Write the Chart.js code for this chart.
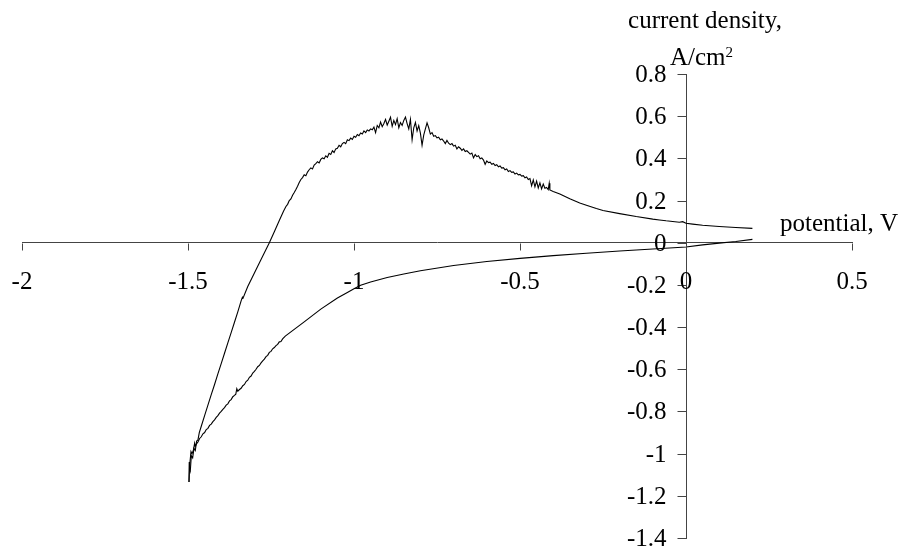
<!DOCTYPE html>
<html>
<head>
<meta charset="utf-8">
<script src="https://cdn.jsdelivr.net/npm/chart.js@4.4.1/dist/chart.umd.min.js"></script>
<style>
  html, body { margin: 0; padding: 0; background: #fff; }
  #wrap { width: 900px; height: 550px; }
</style>
</head>
<body>
<div id="wrap"><canvas id="cv" width="900" height="550"></canvas></div>
<script>
// Axis tick values
const xTicks = [-2, -1.5, -1, -0.5, 0, 0.5];
const yTicks = [-1.4, -1.2, -1, -0.8, -0.6, -0.4, -0.2, 0, 0.2, 0.4, 0.6, 0.8];

// Cathodic sweep: potential (V) going from +0.2 down to -1.5
const cathodicV = [0.200, 0.150, 0.100, 0.050, 0.000, -0.100, -0.200, -0.300, -0.400, -0.500,
  -0.600, -0.700, -0.800, -0.850, -0.900, -0.950, -0.980, -1.000, -1.020, -1.050,
  -1.100, -1.150, -1.207, -1.215, -1.220, -1.225, -1.230, -1.235, -1.240, -1.245,
  -1.250, -1.255, -1.260, -1.265, -1.270, -1.275, -1.280, -1.285, -1.290, -1.295,
  -1.300, -1.305, -1.310, -1.315, -1.320, -1.325, -1.330, -1.335, -1.340, -1.345,
  -1.350, -1.353, -1.356, -1.360, -1.365, -1.370, -1.375, -1.380, -1.385, -1.390,
  -1.395, -1.400, -1.405, -1.410, -1.415, -1.420, -1.425, -1.430, -1.435, -1.440,
  -1.445, -1.450, -1.455, -1.460, -1.465, -1.470, -1.475, -1.478, -1.480, -1.484,
  -1.488, -1.491, -1.494, -1.496, -1.497];
// Cathodic sweep: current density (A/cm2)
const cathodicI = [0.016, 0.006, -0.002, -0.010, -0.020, -0.030, -0.039, -0.050, -0.061, -0.074,
  -0.089, -0.108, -0.133, -0.148, -0.165, -0.186, -0.202, -0.218, -0.236, -0.262,
  -0.315, -0.375, -0.443, -0.456, -0.468, -0.470, -0.482, -0.488, -0.497, -0.503,
  -0.515, -0.520, -0.534, -0.540, -0.552, -0.560, -0.570, -0.582, -0.588, -0.600,
  -0.610, -0.618, -0.632, -0.638, -0.652, -0.658, -0.672, -0.678, -0.690, -0.696,
  -0.704, -0.692, -0.718, -0.724, -0.730, -0.744, -0.750, -0.764, -0.770, -0.782,
  -0.790, -0.800, -0.808, -0.820, -0.828, -0.840, -0.848, -0.860, -0.866, -0.880,
  -0.886, -0.900, -0.906, -0.920, -0.928, -0.945, -0.955, -0.965, -0.950, -0.985,
  -1.000, -0.990, -1.040, -1.080, -1.135];

// Anodic sweep: potential (V) going from -1.5 back up to +0.2
const anodicV = [-1.497, -1.496, -1.493, -1.490, -1.486, -1.482, -1.478, -1.474, -1.470, -1.466,
  -1.460, -1.450, -1.440, -1.430, -1.420, -1.410, -1.400, -1.390, -1.380, -1.370,
  -1.360, -1.350, -1.340, -1.336, -1.334, -1.320, -1.300, -1.280, -1.255, -1.240,
  -1.225, -1.212, -1.205, -1.200, -1.195, -1.190, -1.185, -1.180, -1.175, -1.170,
  -1.165, -1.160, -1.155, -1.150, -1.145, -1.140, -1.135, -1.130, -1.125, -1.120,
  -1.115, -1.110, -1.105, -1.100, -1.095, -1.090, -1.085, -1.080, -1.075, -1.070,
  -1.065, -1.060, -1.055, -1.050, -1.045, -1.040, -1.035, -1.030, -1.025, -1.020,
  -1.015, -1.010, -1.005, -1.000, -0.995, -0.990, -0.985, -0.980, -0.975, -0.970,
  -0.965, -0.960, -0.955, -0.950, -0.945, -0.940, -0.935, -0.930, -0.925, -0.920,
  -0.915, -0.910, -0.905, -0.900, -0.895, -0.890, -0.885, -0.880, -0.875, -0.870,
  -0.865, -0.860, -0.855, -0.850, -0.845, -0.840, -0.835, -0.830, -0.825, -0.820,
  -0.815, -0.810, -0.805, -0.800, -0.795, -0.790, -0.785, -0.780, -0.775, -0.770,
  -0.765, -0.760, -0.755, -0.750, -0.745, -0.740, -0.735, -0.730, -0.725, -0.720,
  -0.715, -0.710, -0.705, -0.700, -0.695, -0.690, -0.685, -0.680, -0.675, -0.670,
  -0.665, -0.660, -0.655, -0.650, -0.645, -0.640, -0.635, -0.630, -0.625, -0.620,
  -0.615, -0.610, -0.605, -0.600, -0.595, -0.590, -0.585, -0.580, -0.575, -0.570,
  -0.565, -0.560, -0.555, -0.550, -0.545, -0.540, -0.535, -0.530, -0.525, -0.520,
  -0.515, -0.510, -0.505, -0.500, -0.495, -0.490, -0.485, -0.480, -0.475, -0.470,
  -0.465, -0.460, -0.455, -0.450, -0.445, -0.440, -0.435, -0.430, -0.425, -0.420,
  -0.415, -0.412, -0.410, -0.400, -0.380, -0.350, -0.320, -0.300, -0.270, -0.250,
  -0.200, -0.150, -0.100, -0.080, -0.060, -0.040, -0.020, -0.010, 0.000, 0.020,
  0.050, 0.100, 0.150, 0.200];
// Anodic sweep: current density (A/cm2)
const anodicI = [-1.135, -1.060, -1.080, -1.010, -1.020, -0.975, -0.985, -0.940, -0.935, -0.900,
  -0.870, -0.820, -0.770, -0.720, -0.672, -0.622, -0.573, -0.524, -0.475, -0.426,
  -0.377, -0.328, -0.276, -0.258, -0.262, -0.208, -0.143, -0.080, 0.000, 0.052,
  0.105, 0.150, 0.172, 0.182, 0.200, 0.208, 0.225, 0.238, 0.252, 0.268,
  0.285, 0.300, 0.309, 0.322, 0.318, 0.335, 0.346, 0.355, 0.350, 0.368,
  0.375, 0.384, 0.378, 0.395, 0.402, 0.398, 0.412, 0.405, 0.424, 0.419,
  0.436, 0.428, 0.445, 0.448, 0.462, 0.455, 0.470, 0.476, 0.470, 0.488,
  0.484, 0.496, 0.490, 0.505, 0.500, 0.513, 0.507, 0.520, 0.516, 0.530,
  0.522, 0.535, 0.530, 0.540, 0.536, 0.548, 0.522, 0.556, 0.545, 0.572,
  0.550, 0.565, 0.585, 0.558, 0.576, 0.595, 0.552, 0.580, 0.560, 0.588,
  0.545, 0.570, 0.556, 0.580, 0.596, 0.565, 0.540, 0.585, 0.488, 0.545,
  0.570, 0.530, 0.555, 0.520, 0.462, 0.510, 0.540, 0.568, 0.545, 0.515,
  0.522, 0.505, 0.508, 0.497, 0.500, 0.488, 0.492, 0.482, 0.470, 0.485,
  0.472, 0.465, 0.470, 0.458, 0.462, 0.445, 0.455, 0.448, 0.438, 0.445,
  0.432, 0.436, 0.428, 0.420, 0.425, 0.402, 0.418, 0.408, 0.412, 0.398,
  0.402, 0.392, 0.372, 0.388, 0.380, 0.382, 0.372, 0.376, 0.366, 0.370,
  0.360, 0.364, 0.354, 0.356, 0.346, 0.350, 0.338, 0.342, 0.334, 0.336,
  0.326, 0.330, 0.322, 0.324, 0.316, 0.318, 0.308, 0.312, 0.300, 0.304,
  0.270, 0.298, 0.265, 0.292, 0.260, 0.284, 0.255, 0.278, 0.258, 0.262,
  0.252, 0.282, 0.250, 0.243, 0.231, 0.208, 0.188, 0.178, 0.162, 0.153,
  0.138, 0.124, 0.112, 0.108, 0.104, 0.101, 0.097, 0.100, 0.092, 0.088,
  0.083, 0.077, 0.072, 0.068];

const toPoints = (xs, ys) => xs.map((x, i) => ({ x: x, y: ys[i] }));

const FONT = '"Liberation Serif", "Times New Roman", serif';
const FONT_SIZE = 25;
const AXIS_COLOR = '#444';
const fmt = v => String(Number(v.toFixed(1)));

// Tick marks and tick labels for axes that cross at the origin
const crossTicks = {
  id: 'crossTicks',
  afterDraw(chart) {
    const { ctx, scales } = chart;
    const xs = scales.x, ys = scales.y;
    const xAxisY = Math.round(ys.getPixelForValue(0)) + 0.5;
    const yAxisX = Math.round(xs.getPixelForValue(0)) + 0.5;
    ctx.save();
    ctx.strokeStyle = AXIS_COLOR;
    ctx.lineWidth = 1;
    ctx.beginPath();
    xs.ticks.forEach(t => {
      const px = Math.round(xs.getPixelForValue(t.value)) + 0.5;
      ctx.moveTo(px, xAxisY);
      ctx.lineTo(px, xAxisY + 7);
    });
    ys.ticks.forEach(t => {
      const py = Math.round(ys.getPixelForValue(t.value)) + 0.5;
      ctx.moveTo(yAxisX, py);
      ctx.lineTo(yAxisX - 9, py);
    });
    ctx.stroke();

    ctx.fillStyle = '#000';
    ctx.font = FONT_SIZE + 'px ' + FONT;
    ctx.textBaseline = 'alphabetic';
    ctx.textAlign = 'center';
    xs.ticks.forEach(t => {
      ctx.fillText(fmt(t.value), xs.getPixelForValue(t.value), xAxisY + 45);
    });
    ctx.textAlign = 'right';
    ys.ticks.forEach(t => {
      ctx.fillText(fmt(t.value), yAxisX - 20, ys.getPixelForValue(t.value) + 8);
    });
    ctx.restore();
  }
};

// Axis titles placed next to the crossing axes
const axisTitles = {
  id: 'axisTitles',
  afterDraw(chart) {
    const { ctx, scales } = chart;
    const x0 = scales.x.getPixelForValue(0);
    const yTop = scales.y.getPixelForValue(0.8);
    const y0 = scales.y.getPixelForValue(0);
    ctx.save();
    ctx.fillStyle = '#000';
    ctx.textBaseline = 'alphabetic';
    ctx.font = FONT_SIZE + 'px ' + FONT;
    ctx.textAlign = 'center';
    ctx.fillText('current density,', x0 + 19, yTop - 46);
    ctx.textAlign = 'left';
    const base = 'A/cm';
    const bx = x0 - 16;
    ctx.fillText(base, bx, yTop - 9);
    const w = ctx.measureText(base).width;
    ctx.font = '15px ' + FONT;
    ctx.fillText('2', bx + w, yTop - 17);
    ctx.font = FONT_SIZE + 'px ' + FONT;
    ctx.fillText('potential, V', x0 + 94, y0 - 12);
    ctx.restore();
  }
};

new Chart(document.getElementById('cv'), {
  type: 'scatter',
  data: {
    datasets: [
      {
        label: 'cathodic',
        data: toPoints(cathodicV, cathodicI),
        showLine: true,
        borderColor: '#000',
        borderWidth: 1.1,
        pointRadius: 0,
        tension: 0
      },
      {
        label: 'anodic',
        data: toPoints(anodicV, anodicI),
        showLine: true,
        borderColor: '#000',
        borderWidth: 1.1,
        pointRadius: 0,
        tension: 0
      }
    ]
  },
  options: {
    responsive: false,
    animation: false,
    devicePixelRatio: 1,
    layout: { padding: { left: 22, right: 48, top: 74, bottom: 12 } },
    plugins: { legend: { display: false }, tooltip: { enabled: false } },
    scales: {
      x: {
        type: 'linear',
        min: xTicks[0],
        max: xTicks[xTicks.length - 1],
        position: { y: 0 },
        afterBuildTicks: s => { s.ticks = xTicks.map(v => ({ value: v })); },
        grid: { drawOnChartArea: false, drawTicks: false },
        border: { display: true, color: AXIS_COLOR, width: 1 },
        ticks: { display: false }
      },
      y: {
        type: 'linear',
        min: yTicks[0],
        max: yTicks[yTicks.length - 1],
        position: { x: 0 },
        afterBuildTicks: s => { s.ticks = yTicks.map(v => ({ value: v })); },
        grid: { drawOnChartArea: false, drawTicks: false },
        border: { display: true, color: AXIS_COLOR, width: 1 },
        ticks: { display: false }
      }
    }
  },
  plugins: [crossTicks, axisTitles]
});
</script>
</body>
</html>
